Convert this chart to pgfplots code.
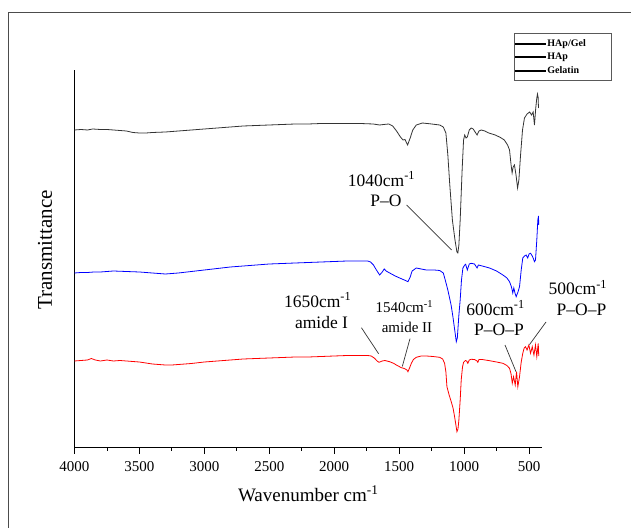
\documentclass[border=0pt]{standalone}
\usepackage{pgfplots}
\pgfplotsset{compat=1.18}
\usepackage{fontspec}
\setmainfont{Liberation Serif}

\pgfplotstableread{
w y
4000 398
3950 398.5
3900 398
3860 399
3800 398.5
3750 398.5
3700 398
3650 397.5
3600 397
3550 395.5
3500 395
3450 395
3400 395.5
3300 396
3200 397
3100 398
3000 399
2900 400
2800 401
2700 402
2600 402.5
2500 403
2400 403.5
2300 404
2200 404
2100 404.5
2000 404.5
1900 404.5
1800 404.5
1700 404
1650 403
1620 403.5
1580 404
1550 402
1520 397
1490 391
1470 388
1455 388.5
1435 383
1415 390
1395 398
1368 403
1320 405
1250 404
1188 403
1160 401
1140 395
1125 373
1110 343
1090 308
1070 288
1055 276
1048 275
1040 283
1030 308
1015 358
1004 388
995 393
985 390
975 391
960 398
945 400
930 399
915 396
900 393
885 397
868 398
840 397
810 395
760 393
720 390.5
690 388
665 383
650 378
638 363
630 355
622 361
612 363
600 353
588 340
578 348
565 373
550 398
535 410
515 414
495 416
480 413
468 416
458 403
448 420
440 430
435 434
430 431
427 420
}\hap

\pgfplotstableread{
w y
4000 255
3950 255.5
3900 255.5
3850 256
3800 256
3700 257
3600 256.5
3500 256
3400 255
3300 254
3250 254.5
3200 255
3100 256.5
3000 258
2900 259.5
2800 261
2700 262
2600 263
2500 264
2400 264.5
2300 265
2200 265.5
2100 266
2000 266.5
1900 267
1800 267
1742 267
1720 266
1698 263
1675 258
1650 253
1630 256
1615 259
1600 257
1573 255
1530 252
1496 250
1460 248
1432 246.3
1415 251
1400 257
1368 260
1330 259
1291 258
1230 258
1188 257.5
1160 255
1145 248
1125 238
1100 223
1086 211.3
1070 196
1060 186.3
1052 190
1040 213
1030 228
1020 248
1009 260
995 263
988 263.7
975 258
960 264
945 264.7
920 264
900 260
890 263
860 262
804 260
750 257
701 253
670 250
650 246.3
635 241
625 235
617 240
608 235
599 231.3
585 236
573 241.3
560 258
548 270
535 272
522 273
510 270
500 274
488 274.7
475 272
465 269
458 266.3
450 268
440 288
432 308
427 312
425 303
}\gel

\pgfplotstableread{
w y
4000 167
3950 167.5
3900 168
3870 169.5
3840 168
3800 167
3750 168
3700 167
3650 167.5
3600 167
3550 166.5
3500 166
3450 165
3400 164
3300 163
3250 163
3200 163.5
3100 164.5
3000 166
2900 167
2800 168
2700 169
2600 169.5
2500 170
2400 170.5
2300 171
2200 171
2100 171.5
2000 172
1900 172.5
1800 172.5
1742 172.5
1715 172
1689 169.7
1670 167
1655 165.7
1630 167
1610 167.5
1573 166.3
1540 164.5
1522 163
1500 161.5
1483 160.3
1460 159.5
1440 158
1432 156.3
1420 160
1406 164.7
1390 168.5
1368 170.7
1330 172
1291 172
1240 171.5
1188 170.7
1165 169
1150 164.7
1140 156
1132 141.3
1115 133
1099 126.3
1085 120
1073 111.3
1063 103
1055 96.3
1047 99
1040 108
1030 128
1022 148
1012 161
1004 165.7
990 167.5
980 167
971 164.7
960 168
945 168.7
920 168.5
900 167
894 165.7
885 168.5
860 168.5
804 167.3
750 166
701 164.7
670 162.5
650 159.7
638 154
629 144.7
619 151.3
606 143
596 156.3
586 141.3
573 151.3
560 166
548 174.7
537 180
527 181.3
515 178
501 183
488 174.7
475 181.3
462 173
450 183
440 171.3
429 184.7
425 172
}\hapgel

\begin{document}
\begin{tikzpicture}
\useasboundingbox (0,0) rectangle (631bp,528bp);
\draw[gray!60!black, line width=0.8bp] (8bp,0) -- (8bp,516bp) -- (631bp,516bp);
\begin{axis}[
  at={(74.5bp,80.5bp)}, anchor=south west,
  scale only axis, width=467.5bp, height=377.5bp,
  x dir=reverse, xmin=400, xmax=4000, ymin=80.5, ymax=458,
  axis x line=bottom, axis y line=left,
  axis line style={-, line width=0.8bp, black},
  xtick={500,1000,...,4000}, minor x tick num=1, ytick=\empty,
  tick align=outside, major tick length=6bp, minor tick length=3.5bp,
  tick style={black, line width=0.8bp},
  xticklabel style={font=\fontsize{15bp}{17bp}\selectfont, yshift=-5bp},
  /pgf/number format/assume math mode=true,
  /pgf/number format/1000 sep={},
  xlabel={Wavenumber cm\textsuperscript{-1}},
  xlabel style={at={(axis description cs:0.5,-0.123)}, anchor=center, font=\fontsize{19bp}{22bp}\selectfont},
  ylabel={Transmittance},
  ylabel style={at={(axis description cs:-0.063,0.523)}, anchor=center, font=\fontsize{21bp}{24bp}\selectfont},
  legend style={at={(axis description cs:1.1476,1.0972)}, anchor=north east,
    draw=gray!70!black,
    font=\bfseries\fontsize{10bp}{11bp}\selectfont,
    inner xsep=1bp, inner ysep=3bp, row sep=0pt,
    nodes={minimum height=13.7bp, inner ysep=0pt}},
  legend cell align=left,
]
\addplot[draw=red, line width=0.8bp, forget plot] table[x=w, y=y] {\hapgel};
\addplot[draw=black!80, line width=0.8bp, forget plot] table[x=w, y=y] {\hap};
\addplot[draw=blue, line width=0.8bp, forget plot] table[x=w, y=y] {\gel};
\addlegendimage{legend image code/.code={\fill[fill=red] (0bp,-0.6bp) rectangle (30bp,0.6bp);}}
\addlegendentry{HAp/Gel\hspace*{22bp}}
\addlegendimage{legend image code/.code={\fill[fill=black!75] (0bp,-0.6bp) rectangle (30bp,0.6bp);}}
\addlegendentry{HAp}
\addlegendimage{legend image code/.code={\fill[fill=blue] (0bp,-0.6bp) rectangle (30bp,0.6bp);}}
\addlegendentry{Gelatin}
\end{axis}
\begin{scope}[font=\fontsize{17.5bp}{20bp}\selectfont]
\node at (381.5bp,349bp) {1040cm\textsuperscript{-1}};
\node at (386bp,327bp) {P--O};
\draw[black!80, line width=0.7bp] (406.7bp,323bp) -- (451.7bp,278bp);
\node at (317.6bp,228bp) {1650cm\textsuperscript{-1}};
\node at (321.5bp,205bp) {amide I};
\draw[black!80, line width=0.7bp] (361.4bp,200.3bp) -- (378.6bp,174.3bp);
\node at (495.5bp,220bp) {600cm\textsuperscript{-1}};
\node at (499bp,198bp) {P--O--P};
\draw[black!80, line width=0.7bp] (505bp,183bp) -- (516bp,156.3bp);
\node at (577.8bp,240.5bp) {500cm\textsuperscript{-1}};
\node at (581.5bp,218.6bp) {P--O--P};
\draw[black!80, line width=0.7bp] (546bp,206bp) -- (529.5bp,183.4bp);
\end{scope}
\begin{scope}[font=\fontsize{15bp}{17bp}\selectfont]
\node at (404.3bp,221bp) {1540cm\textsuperscript{-1}};
\node at (407bp,201bp) {amide II};
\draw[black!80, line width=0.7bp] (410bp,189.4bp) -- (402.3bp,161.5bp);
\end{scope}
\end{tikzpicture}
\end{document}
